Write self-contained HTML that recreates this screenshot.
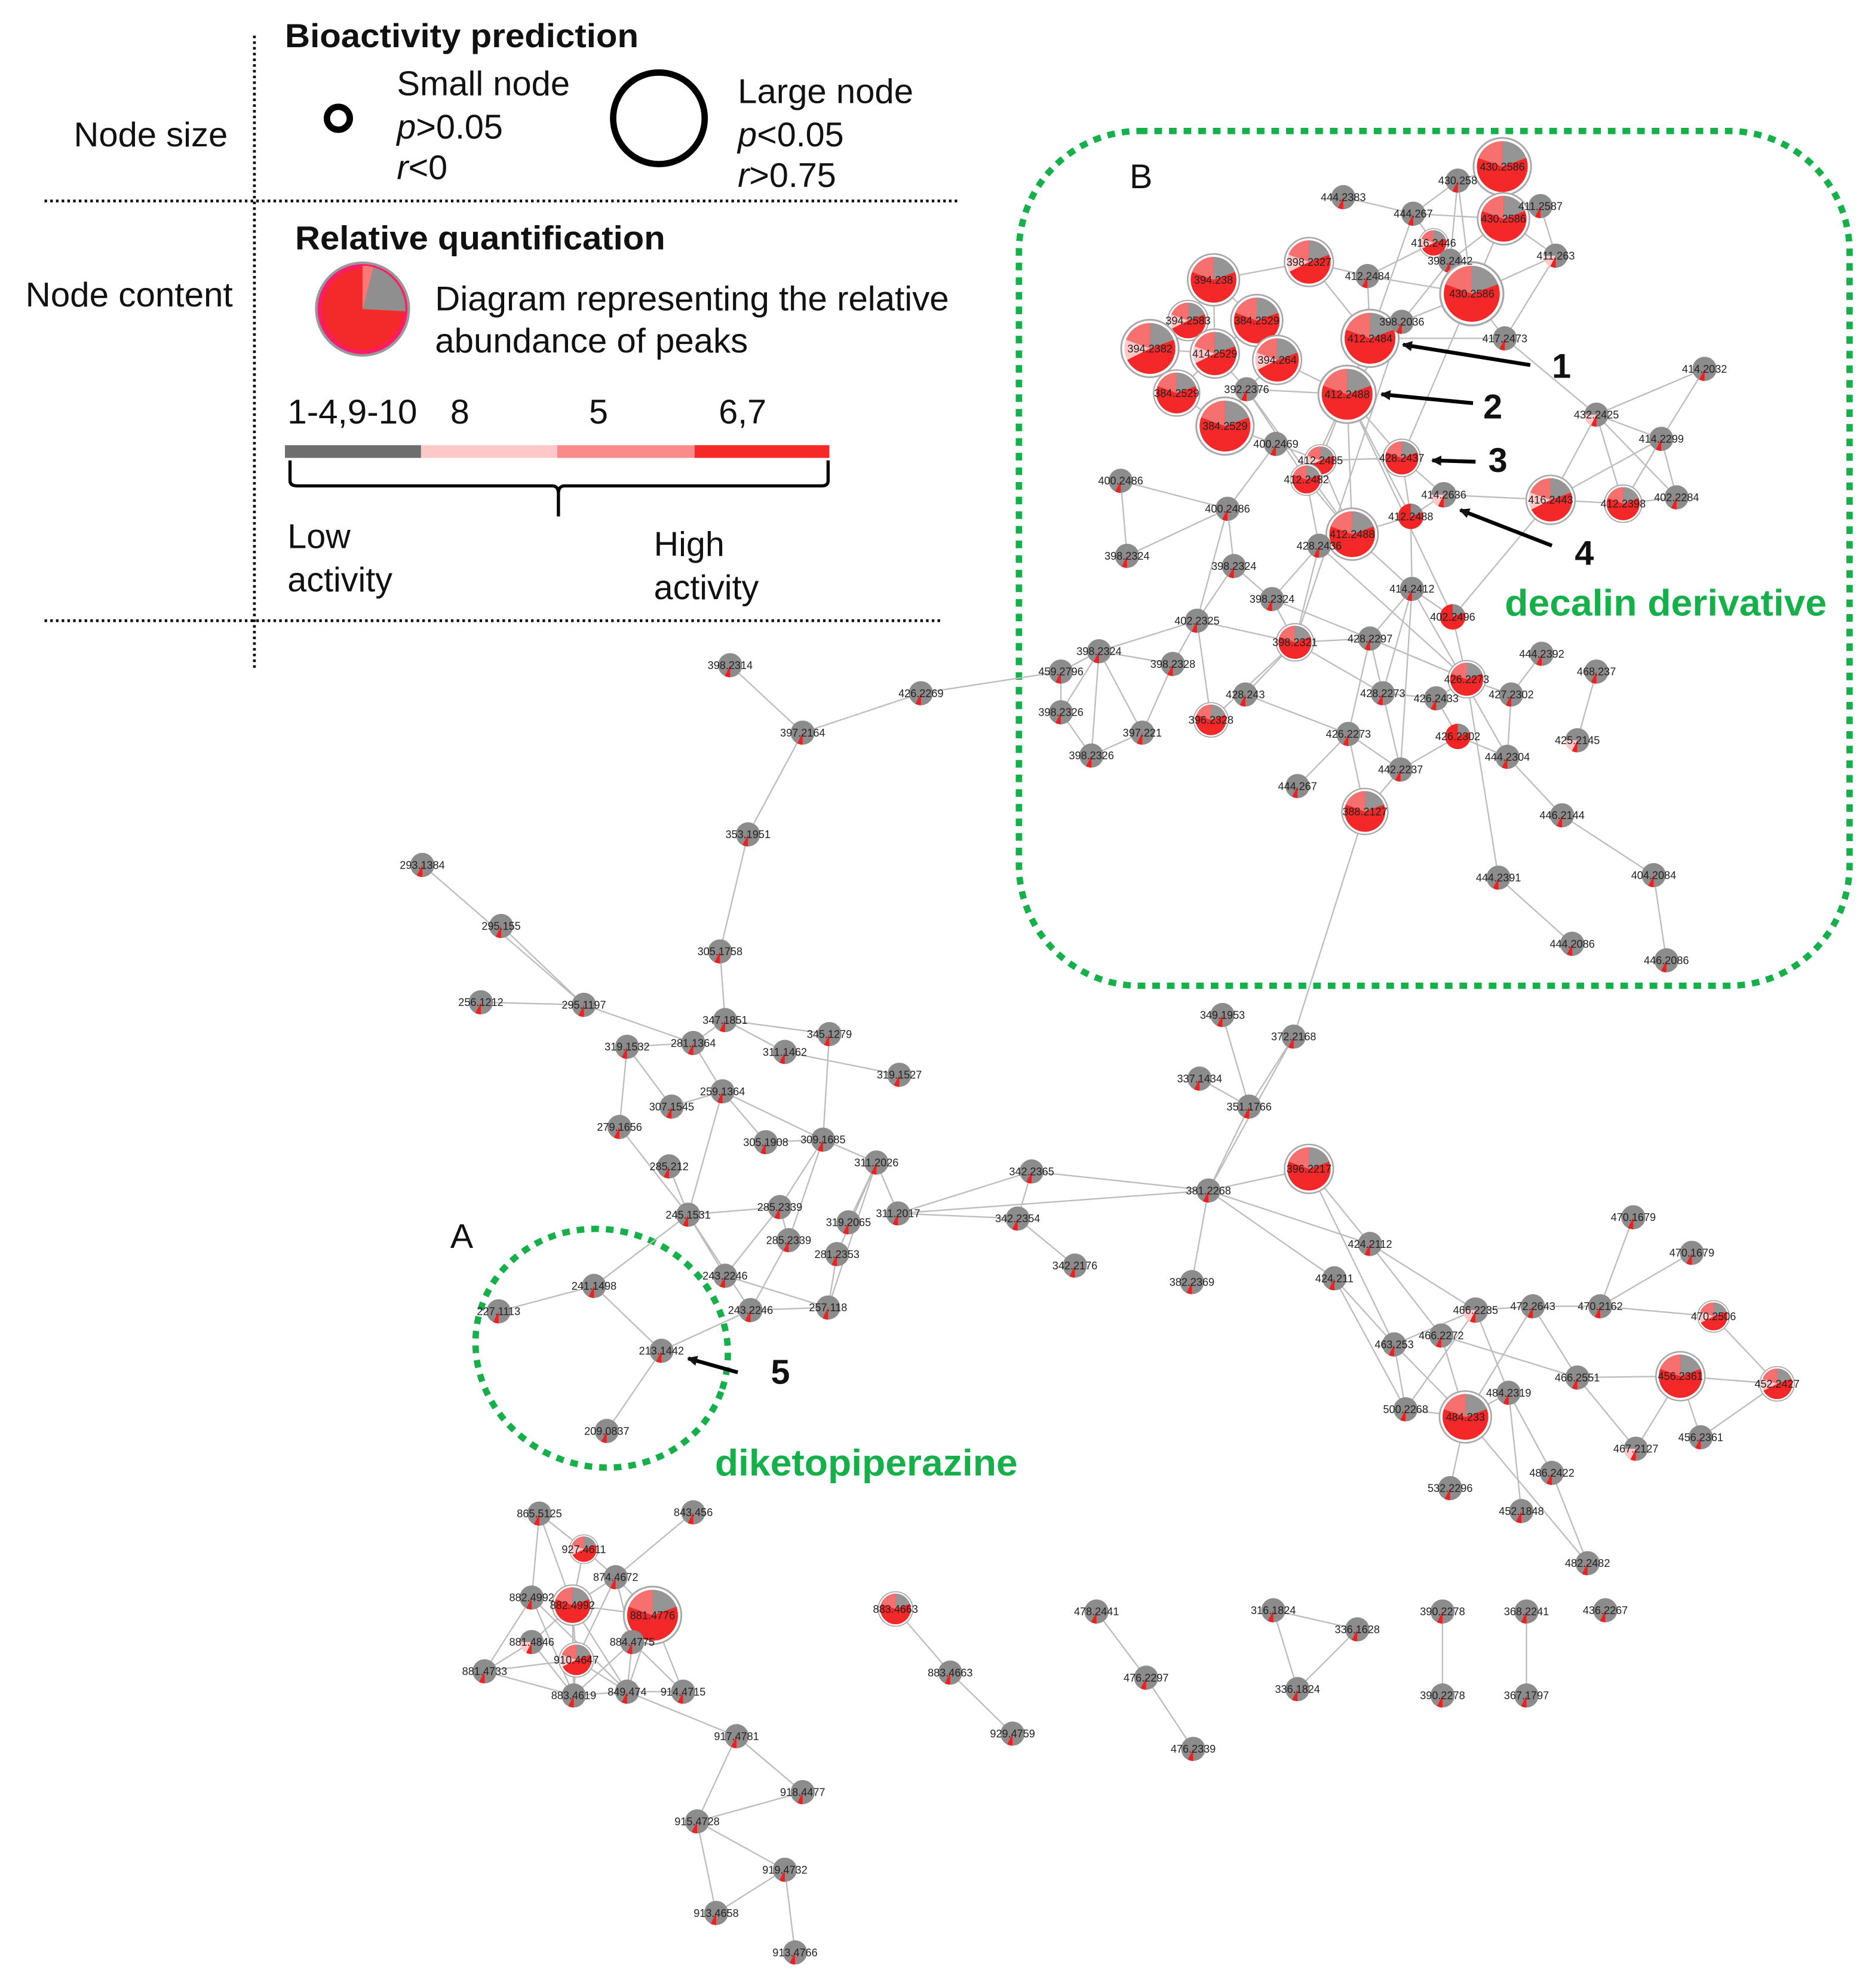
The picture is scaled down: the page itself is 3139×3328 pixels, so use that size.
<!DOCTYPE html>
<html><head><meta charset="utf-8"><style>
html,body{margin:0;padding:0;background:#fff;}
svg{display:block;}
.t{font-family:"Liberation Sans Narrow","Liberation Sans",sans-serif;fill:#111;}
.n{font-family:"Liberation Sans Narrow","Liberation Sans",sans-serif;font-size:8.5px;fill:#222;text-anchor:middle;}
.e{stroke:#bdbdbd;stroke-width:1.1;fill:none;}
</style></head><body>
<svg width="3139" height="3328" viewBox="0 0 1474 1563" preserveAspectRatio="none" xmlns="http://www.w3.org/2000/svg">
<defs>
<path id="wg" d="M0 0 L0 -1 A1 1 0 0 1 0.94 -0.34 Z"/>
<path id="wp" d="M0 0 L-0.94 -0.34 A1 1 0 0 1 0 -1 Z"/>
<path id="wl" d="M0 0 L-0.9 0.45 A1 1 0 0 1 -0.94 -0.34 Z"/>
<path id="wr" d="M0 0 L0 1 A1 1 0 0 1 -0.45 0.89 Z"/>
<g id="G"><circle r="1" fill="#8c8c8c"/><use href="#wr" fill="#f02020"/></g>
<g id="P"><circle r="1" fill="#8c8c8c"/><path d="M0 0 L0 1 A1 1 0 0 1 -1 0 Z" fill="#ffc9c9"/><use href="#wr" fill="#f02020"/></g>
<g id="R"><circle r="1" fill="#f22424"/><use href="#wg" fill="#8c8c8c"/></g>
<g id="L"><circle r="1.13" fill="#fff" stroke="#a8a8a8" stroke-width="0.07"/><circle r="1" fill="#f42828"/><use href="#wp" fill="#f77070"/><use href="#wg" fill="#959595"/></g>
<g id="L2"><circle r="1.13" fill="#fff" stroke="#a8a8a8" stroke-width="0.07"/><circle r="1" fill="#f42828"/><use href="#wp" fill="#f77070"/><use href="#wg" fill="#959595"/><use href="#wl" fill="#ffc9c9"/></g>
<marker id="ah" markerWidth="8" markerHeight="8" refX="7" refY="4" orient="auto" markerUnits="userSpaceOnUse"><path d="M0 0 L8 4 L0 8 Z" fill="#111"/></marker>
</defs>

<!-- Legend -->
<g class="t">
<text x="224" y="37" font-size="26" font-weight="bold" textLength="278" lengthAdjust="spacingAndGlyphs">Bioactivity prediction</text>
<text x="58" y="115" font-size="27" textLength="121" lengthAdjust="spacingAndGlyphs">Node size</text>
<text x="312" y="75" font-size="27" textLength="136" lengthAdjust="spacingAndGlyphs">Small node</text>
<text x="312" y="109" font-size="27"><tspan font-style="italic">p</tspan>&gt;0.05</text>
<text x="312" y="141" font-size="27"><tspan font-style="italic">r</tspan>&lt;0</text>
<text x="580" y="81" font-size="27" textLength="138" lengthAdjust="spacingAndGlyphs">Large node</text>
<text x="580" y="115" font-size="27"><tspan font-style="italic">p</tspan>&lt;0.05</text>
<text x="580" y="147" font-size="27"><tspan font-style="italic">r</tspan>&gt;0.75</text>
<text x="232" y="196" font-size="26" font-weight="bold" textLength="291" lengthAdjust="spacingAndGlyphs">Relative quantification</text>
<text x="20" y="241" font-size="27" textLength="163" lengthAdjust="spacingAndGlyphs">Node content</text>
<text x="342" y="244" font-size="27" textLength="404" lengthAdjust="spacingAndGlyphs">Diagram representing the relative</text>
<text x="342" y="277" font-size="27" textLength="246" lengthAdjust="spacingAndGlyphs">abundance of peaks</text>
<text x="226" y="333" font-size="27" textLength="102" lengthAdjust="spacingAndGlyphs">1-4,9-10</text>
<text x="354" y="333" font-size="27">8</text>
<text x="463" y="333" font-size="27">5</text>
<text x="565" y="333" font-size="27">6,7</text>
<text x="226" y="431" font-size="27">Low</text>
<text x="226" y="465" font-size="27">activity</text>
<text x="514" y="437" font-size="27">High</text>
<text x="514" y="471" font-size="27">activity</text>
</g>
<circle cx="266" cy="93" r="9" fill="none" stroke="#000" stroke-width="5"/>
<circle cx="518" cy="93" r="36" fill="none" stroke="#000" stroke-width="5"/>
<g transform="translate(285,243) scale(34)"><circle r="1" fill="#f42a2a" stroke="#ff1a6a" stroke-width="0.1"/><path d="M0 0 L0 -1 A1 1 0 0 1 0.99 0.05 Z" fill="#8f8f8f"/><path d="M0 0 L0 -1 A1 1 0 0 1 0.25 -0.97 Z" fill="#f77"/><circle r="1.07" fill="none" stroke="#999" stroke-width="0.06"/></g>
<rect x="224" y="350" width="107" height="10" fill="#6e6e6e"/>
<rect x="331" y="350" width="107" height="10" fill="#ffc8c8"/>
<rect x="438" y="350" width="108" height="10" fill="#fb8a8a"/>
<rect x="546" y="350" width="106" height="10" fill="#f72828"/>
<path d="M228 362 V378 Q228 382 234 382 H434 Q439 382 439 388 V406 M439 388 Q439 382 444 382 H646 Q651 382 651 378 V362" fill="none" stroke="#000" stroke-width="2.5"/>
<g stroke="#000" stroke-width="2.2" stroke-dasharray="2 2.5" fill="none">
<line x1="35" y1="158" x2="755" y2="158"/>
<line x1="35" y1="488" x2="740" y2="488"/>
<line x1="200" y1="28" x2="200" y2="525"/>
</g>

<!-- Green regions -->
<rect x="801" y="103" width="653" height="672" rx="95" fill="none" stroke="#16b04a" stroke-width="5" stroke-dasharray="6 5.5"/>
<ellipse cx="473" cy="1060" rx="100" ry="93" transform="rotate(20 473 1060)" fill="none" stroke="#16b04a" stroke-width="5" stroke-dasharray="6 5.5"/>
<text x="888" y="148" class="t" font-size="27">B</text>
<text x="354" y="981" class="t" font-size="27">A</text>
<text x="1183" y="484" font-family="Liberation Sans,sans-serif" font-size="29" font-weight="bold" fill="#16b04a" textLength="253" lengthAdjust="spacingAndGlyphs">decalin derivative</text>
<text x="562" y="1160" font-family="Liberation Sans,sans-serif" font-size="29" font-weight="bold" fill="#16b04a" textLength="238" lengthAdjust="spacingAndGlyphs">diketopiperazine</text>

<!-- Edges -->
<path class="e" d="
M1181 131 L1146 142 M1181 131 L1182 172 M1146 142 L1111 168 M1146 142 L1140 205 M1146 142 L1157 231 M1182 172 L1111 168 M1182 172 L1140 205 M1182 172 L1211 162 M1182 172 L1223 201 M1182 172 L1157 231 M1056 155 L1111 168 M1111 168 L1077 266 M1111 168 L1127 191 M1127 191 L1075 217 M1127 191 L1157 231 M1140 205 L1157 231 M1140 205 L1102 253 M1223 201 L1157 231 M1223 201 L1183 266 M1223 201 L1211 162 M1029 206 L1075 217 M1029 206 L954 220 M1029 206 L1077 266 M1075 217 L1077 266 M1075 217 L1157 231 M1157 231 L1102 253 M1157 231 L1183 266 M1183 266 L1077 266 M1183 266 L1255 326 M954 220 L934 252 M954 220 L988 252 M954 220 L955 278 M934 252 L904 274 M934 252 L955 278 M988 252 L955 278 M988 252 L1004 283 M904 274 L955 278 M904 274 L925 309 M955 278 L925 309 M955 278 L980 306 M1004 283 L980 306 M1004 283 L1059 310 M925 309 L963 335 M980 306 L963 335 M980 306 L1059 310 M1077 266 L1059 310 M1077 266 L1102 253 M1102 253 L1059 310 M1059 310 L1038 362 M1059 310 L1102 360 M1059 310 L1027 377 M1059 310 L1063 420 M1059 310 L1109 406 M963 335 L1003 349 M1003 349 L1038 362 M1003 349 L965 400 M980 306 L1027 377 M980 306 L1063 420 M1038 362 L1102 360 M1038 362 L1063 420 M1027 377 L1063 420 M1102 360 L1109 406 M1102 360 L1135 389 M1135 389 L1219 393 M1135 389 L1109 406 M1109 406 L1063 420 M1063 420 L1037 429 M1063 420 L1110 463 M1109 406 L1110 463 M1102 360 L1157 231 M1027 377 L1037 429 M881 378 L886 437 M881 378 L965 400 M886 437 L965 400 M965 400 L941 488 M965 400 L970 445 M970 445 L1000 471 M970 445 L941 488 M1000 471 L1018 505 M1000 471 L1037 429 M1037 429 L1018 505 M1110 463 L1077 502 M1110 463 L1142 485 M1110 463 L1087 545 M1110 463 L1101 605 M1142 485 L1153 534 M1142 485 L1219 393 M1219 393 L1276 396 M1276 396 L1318 391 M1255 326 L1219 393 M1255 326 L1276 396 M1255 326 L1318 391 M1255 326 L1306 345 M1255 326 L1340 290 M1306 345 L1340 290 M1306 345 L1219 393 M1306 345 L1276 396 M1306 345 L1318 391 M1018 505 L1077 502 M1018 505 L1087 545 M1018 505 L979 546 M1018 505 L952 566 M1018 505 L941 488 M1077 502 L1087 545 M1077 502 L1060 577 M1077 502 L1153 534 M1087 545 L1129 549 M1087 545 L1101 605 M1129 549 L1153 534 M1129 549 L1146 579 M1153 534 L1188 546 M1188 546 L1212 514 M1188 546 L1185 595 M1146 579 L1185 595 M1146 579 L1101 605 M1060 577 L1101 605 M1060 577 L1073 638 M1060 577 L1020 618 M979 546 L1060 577 M1101 605 L1073 638 M1255 528 L1240 582 M1185 595 L1228 641 M1228 641 L1300 688 M1300 688 L1310 755 M1178 690 L1236 742 M1153 534 L1178 690 M1060 577 L1020 618 M864 512 L834 528 M864 512 L922 522 M864 512 L834 560 M864 512 L858 594 M864 512 L898 576 M922 522 L898 576 M922 522 L941 488 M834 528 L834 560 M834 560 L858 594 M898 576 L858 594 M864 512 L941 488 M952 566 L941 488 M1000 471 L1077 502 M1037 429 L1153 534 M1110 463 L1185 595 M1059 310 L1142 485 M1102 253 L1018 505
M574 523 L631 576 M724 545 L631 576 M724 545 L834 528 M631 576 L588 656 M588 656 L566 748 M566 748 L570 802 M332 680 L459 790 M394 728 L459 790 M378 788 L459 790 M459 790 L545 820 M570 802 L545 820 M570 802 L617 827 M570 802 L652 813 M545 820 L493 823 M493 823 L528 870 M493 823 L487 886 M545 820 L568 858 M568 858 L528 870 M568 858 L602 898 M568 858 L647 896 M652 813 L647 896 M617 827 L707 845 M647 896 L689 914 M602 898 L647 896 M526 917 L541 955 M487 886 L541 955 M568 858 L541 955 M647 896 L613 949 M647 896 L620 975 M689 914 L706 954 M689 914 L667 961 M689 914 L658 986 M706 954 L811 921 M706 954 L800 958 M811 921 L800 958 M800 958 L845 995 M811 921 L950 936 M706 954 L950 936 M950 936 L1029 919 M950 936 L1017 815 M950 936 L982 870 M982 870 L1017 815 M1017 815 L1073 638 M961 798 L982 870 M943 848 L982 870 M950 936 L937 1008 M950 936 L1077 978 M950 936 L1049 1005 M1029 919 L1077 978 M1029 919 L1096 1057 M1049 1005 L1096 1057 M1077 978 L1160 1030 M1096 1057 L1105 1108 M1096 1057 L1152 1114 M1133 1050 L1152 1114 M1160 1030 L1186 1095 M1205 1027 L1258 1027 M1258 1027 L1284 957 M1258 1027 L1330 985 M1258 1027 L1347 1035 M1205 1027 L1240 1083 M1240 1083 L1321 1082 M1240 1083 L1286 1139 M1321 1082 L1397 1088 M1337 1130 L1397 1088 M1347 1035 L1397 1088 M1186 1095 L1220 1158 M1220 1158 L1248 1229 M1186 1095 L1196 1188 M1152 1114 L1140 1170 M1105 1108 L1152 1114 M1186 1095 L1152 1114 M1160 1030 L1105 1108 M1049 1005 L1105 1108 M1133 1050 L1240 1083 M1077 978 L1133 1050 M1160 1030 L1205 1027 M1205 1027 L1152 1114 M1321 1082 L1337 1130 M1286 1139 L1321 1082 M1152 1114 L1248 1229 M1096 1057 L1160 1030
M541 955 L570 1003 M541 955 L590 1030 M570 1003 L651 1028 M590 1030 L651 1028 M613 949 L570 1003 M658 986 L651 1028 M620 975 L590 1030 M613 949 L620 975 M541 955 L613 949 M392 1031 L467 1011 M467 1011 L520 1062 M520 1062 L477 1125 M520 1062 L590 1030 M689 914 L651 1028 M541 955 L467 1011
M424 1190 L459 1218 M424 1190 L418 1256 M424 1190 L450 1262 M545 1189 L484 1240 M459 1218 L484 1240 M459 1218 L450 1262 M484 1240 L513 1270 M484 1240 L450 1262 M484 1240 L497 1291 M484 1240 L453 1305 M418 1256 L381 1314 M418 1256 L451 1333 M418 1256 L493 1330 M450 1262 L513 1270 M450 1262 L418 1291 M450 1262 L453 1305 M450 1262 L451 1333 M450 1262 L493 1330 M513 1270 L497 1291 M513 1270 L537 1330 M513 1270 L493 1330 M497 1291 L493 1330 M497 1291 L451 1333 M418 1291 L381 1314 M418 1291 L451 1333 M453 1305 L381 1314 M453 1305 L451 1333 M453 1305 L493 1330 M381 1314 L451 1333 M451 1333 L493 1330 M493 1330 L537 1330 M497 1291 L537 1330 M493 1330 L579 1365 M579 1365 L548 1432 M579 1365 L631 1409 M548 1432 L631 1409 M548 1432 L617 1470 M548 1432 L563 1504 M617 1470 L625 1535 M563 1504 L617 1470 M704 1265 L747 1315 M747 1315 L796 1363 M862 1267 L901 1319 M901 1319 L938 1375 M1001 1266 L1067 1281 M1001 1266 L1020 1328 M1067 1281 L1020 1328 M1134 1267 L1134 1333 M1200 1267 L1200 1333
"/>

<!-- Nodes -->
<g>
<use href="#L" transform="translate(1181,131) scale(20)"/>
<use href="#G" transform="translate(1146,142) scale(9.5)"/>
<use href="#G" transform="translate(1211,162) scale(9.5)"/>
<use href="#L" transform="translate(1182,172) scale(18)"/>
<use href="#G" transform="translate(1056,155) scale(9.5)"/>
<use href="#G" transform="translate(1111,168) scale(9.5)"/>
<use href="#L2" transform="translate(1127,191) scale(10)"/>
<use href="#G" transform="translate(1140,205) scale(9.5)"/>
<use href="#P" transform="translate(1223,201) scale(9.5)"/>
<use href="#L" transform="translate(1157,231) scale(22)"/>
<use href="#L2" transform="translate(1029,206) scale(17)"/>
<use href="#G" transform="translate(1075,217) scale(9.5)"/>
<use href="#L" transform="translate(954,220) scale(18)"/>
<use href="#L2" transform="translate(934,252) scale(14)"/>
<use href="#L" transform="translate(988,252) scale(18)"/>
<use href="#L2" transform="translate(904,274) scale(20)"/>
<use href="#L2" transform="translate(955,278) scale(17)"/>
<use href="#L2" transform="translate(1004,283) scale(17)"/>
<use href="#L" transform="translate(1077,266) scale(20)"/>
<use href="#G" transform="translate(1102,253) scale(9.5)"/>
<use href="#G" transform="translate(1183,266) scale(9.5)"/>
<use href="#L" transform="translate(1059,310) scale(20)"/>
<use href="#L" transform="translate(925,309) scale(16)"/>
<use href="#G" transform="translate(980,306) scale(9.5)"/>
<use href="#L" transform="translate(963,335) scale(20)"/>
<use href="#G" transform="translate(1003,349) scale(9.5)"/>
<use href="#L2" transform="translate(1038,362) scale(11)"/>
<use href="#L" transform="translate(1102,360) scale(13)"/>
<use href="#L" transform="translate(1027,377) scale(11)"/>
<use href="#P" transform="translate(1135,389) scale(10)"/>
<use href="#R" transform="translate(1109,406) scale(10)"/>
<use href="#L" transform="translate(1063,420) scale(18)"/>
<use href="#G" transform="translate(881,378) scale(9.5)"/>
<use href="#G" transform="translate(965,400) scale(9.5)"/>
<use href="#G" transform="translate(1037,429) scale(9.5)"/>
<use href="#G" transform="translate(886,437) scale(9.5)"/>
<use href="#G" transform="translate(970,445) scale(9.5)"/>
<use href="#G" transform="translate(1000,471) scale(9.5)"/>
<use href="#G" transform="translate(1110,463) scale(9.5)"/>
<use href="#G" transform="translate(941,488) scale(9.5)"/>
<use href="#L2" transform="translate(1219,393) scale(17)"/>
<use href="#L" transform="translate(1276,396) scale(13)"/>
<use href="#G" transform="translate(1318,391) scale(9.5)"/>
<use href="#P" transform="translate(1255,326) scale(9.5)"/>
<use href="#G" transform="translate(1306,345) scale(9.5)"/>
<use href="#G" transform="translate(1340,290) scale(9.5)"/>
<use href="#R" transform="translate(1142,485) scale(10)"/>
<use href="#L" transform="translate(1018,505) scale(13)"/>
<use href="#G" transform="translate(1077,502) scale(9.5)"/>
<use href="#G" transform="translate(864,512) scale(9.5)"/>
<use href="#G" transform="translate(834,528) scale(9.5)"/>
<use href="#G" transform="translate(922,522) scale(9.5)"/>
<use href="#G" transform="translate(834,560) scale(9.5)"/>
<use href="#G" transform="translate(858,594) scale(9.5)"/>
<use href="#G" transform="translate(898,576) scale(9.5)"/>
<use href="#L" transform="translate(952,566) scale(12)"/>
<use href="#G" transform="translate(979,546) scale(9.5)"/>
<use href="#G" transform="translate(1087,545) scale(9.5)"/>
<use href="#G" transform="translate(1129,549) scale(9.5)"/>
<use href="#G" transform="translate(1060,577) scale(9.5)"/>
<use href="#L" transform="translate(1153,534) scale(13)"/>
<use href="#G" transform="translate(1188,546) scale(9.5)"/>
<use href="#R" transform="translate(1146,579) scale(10)"/>
<use href="#G" transform="translate(1185,595) scale(9.5)"/>
<use href="#G" transform="translate(1212,514) scale(9.5)"/>
<use href="#G" transform="translate(1255,528) scale(9.5)"/>
<use href="#P" transform="translate(1240,582) scale(9.5)"/>
<use href="#G" transform="translate(1101,605) scale(9.5)"/>
<use href="#G" transform="translate(1020,618) scale(9.5)"/>
<use href="#L" transform="translate(1073,638) scale(16)"/>
<use href="#G" transform="translate(1228,641) scale(9.5)"/>
<use href="#G" transform="translate(1300,688) scale(9.5)"/>
<use href="#G" transform="translate(1178,690) scale(9.5)"/>
<use href="#G" transform="translate(1236,742) scale(9.5)"/>
<use href="#G" transform="translate(1310,755) scale(9.5)"/>

<use href="#G" transform="translate(574,523) scale(9.5)"/>
<use href="#G" transform="translate(724,545) scale(9.5)"/>
<use href="#G" transform="translate(631,576) scale(9.5)"/>
<use href="#G" transform="translate(588,656) scale(9.5)"/>
<use href="#G" transform="translate(332,680) scale(9.5)"/>
<use href="#G" transform="translate(394,728) scale(9.5)"/>
<use href="#G" transform="translate(378,788) scale(9.5)"/>
<use href="#G" transform="translate(459,790) scale(9.5)"/>
<use href="#G" transform="translate(566,748) scale(9.5)"/>
<use href="#G" transform="translate(570,802) scale(9.5)"/>
<use href="#G" transform="translate(545,820) scale(9.5)"/>
<use href="#G" transform="translate(493,823) scale(9.5)"/>
<use href="#G" transform="translate(617,827) scale(9.5)"/>
<use href="#G" transform="translate(652,813) scale(9.5)"/>
<use href="#G" transform="translate(707,845) scale(9.5)"/>
<use href="#G" transform="translate(568,858) scale(9.5)"/>
<use href="#G" transform="translate(528,870) scale(9.5)"/>
<use href="#G" transform="translate(487,886) scale(9.5)"/>
<use href="#G" transform="translate(602,898) scale(9.5)"/>
<use href="#G" transform="translate(647,896) scale(9.5)"/>
<use href="#G" transform="translate(526,917) scale(9.5)"/>
<use href="#G" transform="translate(689,914) scale(9.5)"/>
<use href="#G" transform="translate(541,955) scale(9.5)"/>
<use href="#G" transform="translate(613,949) scale(9.5)"/>
<use href="#G" transform="translate(667,961) scale(9.5)"/>
<use href="#G" transform="translate(706,954) scale(9.5)"/>
<use href="#G" transform="translate(620,975) scale(9.5)"/>
<use href="#G" transform="translate(658,986) scale(9.5)"/>
<use href="#G" transform="translate(570,1003) scale(9.5)"/>
<use href="#G" transform="translate(590,1030) scale(9.5)"/>
<use href="#G" transform="translate(651,1028) scale(9.5)"/>
<use href="#G" transform="translate(811,921) scale(9.5)"/>
<use href="#G" transform="translate(800,958) scale(9.5)"/>
<use href="#G" transform="translate(845,995) scale(9.5)"/>
<use href="#G" transform="translate(950,936) scale(9.5)"/>
<use href="#G" transform="translate(961,798) scale(9.5)"/>
<use href="#G" transform="translate(1017,815) scale(9.5)"/>
<use href="#G" transform="translate(943,848) scale(9.5)"/>
<use href="#G" transform="translate(982,870) scale(9.5)"/>
<use href="#L" transform="translate(1029,919) scale(17)"/>
<use href="#G" transform="translate(937,1008) scale(9.5)"/>
<use href="#G" transform="translate(1077,978) scale(9.5)"/>
<use href="#G" transform="translate(1049,1005) scale(9.5)"/>
<use href="#G" transform="translate(1284,957) scale(9.5)"/>
<use href="#G" transform="translate(1330,985) scale(9.5)"/>
<use href="#G" transform="translate(1258,1027) scale(9.5)"/>
<use href="#L2" transform="translate(1347,1035) scale(11)"/>
<use href="#P" transform="translate(1160,1030) scale(10)"/>
<use href="#G" transform="translate(1205,1027) scale(9.5)"/>
<use href="#G" transform="translate(1096,1057) scale(9.5)"/>
<use href="#G" transform="translate(1133,1050) scale(9.5)"/>
<use href="#G" transform="translate(1186,1095) scale(9.5)"/>
<use href="#G" transform="translate(1240,1083) scale(9.5)"/>
<use href="#L" transform="translate(1321,1082) scale(17)"/>
<use href="#L2" transform="translate(1397,1088) scale(12)"/>
<use href="#G" transform="translate(1105,1108) scale(9.5)"/>
<use href="#L" transform="translate(1152,1114) scale(18)"/>
<use href="#P" transform="translate(1286,1139) scale(9.5)"/>
<use href="#G" transform="translate(1337,1130) scale(9.5)"/>
<use href="#G" transform="translate(1220,1158) scale(9.5)"/>
<use href="#G" transform="translate(1140,1170) scale(9.5)"/>
<use href="#G" transform="translate(1196,1188) scale(9.5)"/>
<use href="#G" transform="translate(1248,1229) scale(9.5)"/>

<use href="#G" transform="translate(467,1011) scale(9.5)"/>
<use href="#G" transform="translate(392,1031) scale(9.5)"/>
<use href="#G" transform="translate(520,1062) scale(9.5)"/>
<use href="#G" transform="translate(477,1125) scale(9.5)"/>

<use href="#G" transform="translate(424,1190) scale(9.5)"/>
<use href="#G" transform="translate(545,1189) scale(9.5)"/>
<use href="#L2" transform="translate(459,1218) scale(10)"/>
<use href="#G" transform="translate(484,1240) scale(9.5)"/>
<use href="#G" transform="translate(418,1256) scale(9.5)"/>
<use href="#L" transform="translate(450,1262) scale(14)"/>
<use href="#L" transform="translate(513,1270) scale(20)"/>
<use href="#P" transform="translate(418,1291) scale(9.5)"/>
<use href="#G" transform="translate(497,1291) scale(9.5)"/>
<use href="#L2" transform="translate(453,1305) scale(12)"/>
<use href="#G" transform="translate(381,1314) scale(9.5)"/>
<use href="#G" transform="translate(451,1333) scale(9.5)"/>
<use href="#G" transform="translate(493,1330) scale(9.5)"/>
<use href="#G" transform="translate(537,1330) scale(9.5)"/>
<use href="#G" transform="translate(579,1365) scale(9.5)"/>
<use href="#G" transform="translate(631,1409) scale(9.5)"/>
<use href="#G" transform="translate(548,1432) scale(9.5)"/>
<use href="#G" transform="translate(617,1470) scale(9.5)"/>
<use href="#G" transform="translate(563,1504) scale(9.5)"/>
<use href="#G" transform="translate(625,1535) scale(9.5)"/>
<use href="#L" transform="translate(704,1265) scale(12)"/>
<use href="#G" transform="translate(747,1315) scale(9.5)"/>
<use href="#G" transform="translate(796,1363) scale(9.5)"/>
<use href="#G" transform="translate(862,1267) scale(9.5)"/>
<use href="#G" transform="translate(901,1319) scale(9.5)"/>
<use href="#G" transform="translate(938,1375) scale(9.5)"/>
<use href="#G" transform="translate(1001,1266) scale(9.5)"/>
<use href="#G" transform="translate(1067,1281) scale(9.5)"/>
<use href="#G" transform="translate(1020,1328) scale(9.5)"/>
<use href="#G" transform="translate(1134,1267) scale(9.5)"/>
<use href="#G" transform="translate(1134,1333) scale(9.5)"/>
<use href="#G" transform="translate(1200,1267) scale(9.5)"/>
<use href="#G" transform="translate(1200,1333) scale(9.5)"/>
<use href="#G" transform="translate(1262,1266) scale(9.5)"/>
</g>

<!-- Node labels -->
<g class="n">
<text x="1181" y="134">430.2586</text><text x="1146" y="145">430.258</text><text x="1211" y="165">411.2587</text><text x="1182" y="175">430.2586</text>
<text x="1056" y="158">444.2383</text><text x="1111" y="171">444.267</text><text x="1127" y="194">416.2446</text><text x="1140" y="208">398.2442</text>
<text x="1223" y="204">411.263</text><text x="1157" y="234">430.2586</text><text x="1029" y="209">398.2327</text><text x="1075" y="220">412.2484</text>
<text x="954" y="223">394.238</text><text x="934" y="255">394.2583</text><text x="988" y="255">384.2529</text><text x="904" y="277">394.2382</text>
<text x="955" y="281">414.2529</text><text x="1004" y="286">394.264</text><text x="1077" y="269">412.2484</text><text x="1102" y="256">398.2036</text>
<text x="1183" y="269">417.2473</text><text x="1059" y="313">412.2488</text><text x="925" y="312">384.2529</text><text x="980" y="309">392.2376</text>
<text x="963" y="338">384.2529</text><text x="1003" y="352">400.2469</text><text x="1038" y="365">412.2485</text><text x="1102" y="363">428.2437</text>
<text x="1027" y="380">412.2482</text><text x="1135" y="392">414.2636</text><text x="1109" y="409">412.2488</text><text x="1063" y="423">412.2488</text>
<text x="881" y="381">400.2486</text><text x="965" y="403">400.2486</text><text x="1037" y="432">428.2436</text><text x="886" y="440">398.2324</text>
<text x="970" y="448">398.2324</text><text x="1000" y="474">398.2324</text><text x="1110" y="466">414.2412</text><text x="941" y="491">402.2325</text>
<text x="1219" y="396">416.2443</text><text x="1276" y="399">412.2398</text><text x="1318" y="394">402.2284</text><text x="1255" y="329">432.2425</text>
<text x="1306" y="348">414.2299</text><text x="1340" y="293">414.2032</text><text x="1142" y="488">402.2496</text><text x="1018" y="508">398.2321</text>
<text x="1077" y="505">428.2297</text><text x="864" y="515">398.2324</text><text x="834" y="531">459.2796</text><text x="922" y="525">398.2328</text>
<text x="834" y="563">398.2326</text><text x="858" y="597">398.2326</text><text x="898" y="579">397.221</text><text x="952" y="569">396.2328</text>
<text x="979" y="549">428.243</text><text x="1087" y="548">428.2273</text><text x="1129" y="552">426.2433</text><text x="1060" y="580">426.2273</text>
<text x="1153" y="537">426.2273</text><text x="1188" y="549">427.2302</text><text x="1146" y="582">426.2302</text><text x="1185" y="598">444.2304</text>
<text x="1212" y="517">444.2392</text><text x="1255" y="531">468.237</text><text x="1240" y="585">425.2145</text><text x="1101" y="608">442.2237</text>
<text x="1020" y="621">444.267</text><text x="1073" y="641">388.2127</text><text x="1228" y="644">446.2144</text><text x="1300" y="691">404.2084</text>
<text x="1178" y="693">444.2391</text><text x="1236" y="745">444.2086</text><text x="1310" y="758">446.2086</text>

<text x="574" y="526">398.2314</text><text x="724" y="548">426.2269</text><text x="631" y="579">397.2164</text><text x="588" y="659">353.1951</text>
<text x="332" y="683">293.1384</text><text x="394" y="731">295.155</text><text x="378" y="791">256.1212</text><text x="459" y="793">295.1197</text>
<text x="566" y="751">305.1758</text><text x="570" y="805">347.1851</text><text x="545" y="823">281.1364</text><text x="493" y="826">319.1532</text>
<text x="617" y="830">311.1462</text><text x="652" y="816">345.1279</text><text x="707" y="848">319.1527</text><text x="568" y="861">259.1364</text>
<text x="528" y="873">307.1545</text><text x="487" y="889">279.1656</text><text x="602" y="901">305.1908</text><text x="647" y="899">309.1685</text>
<text x="526" y="920">285.212</text><text x="689" y="917">311.2026</text><text x="541" y="958">245.1531</text><text x="613" y="952">285.2339</text>
<text x="667" y="964">319.2065</text><text x="706" y="957">311.2017</text><text x="620" y="978">285.2339</text><text x="658" y="989">281.2353</text>
<text x="570" y="1006">243.2246</text><text x="590" y="1033">243.2246</text><text x="651" y="1031">257.118</text><text x="811" y="924">342.2365</text>
<text x="800" y="961">342.2354</text><text x="845" y="998">342.2176</text><text x="950" y="939">381.2268</text><text x="961" y="801">349.1953</text>
<text x="1017" y="818">372.2168</text><text x="943" y="851">337.1434</text><text x="982" y="873">351.1766</text><text x="1029" y="922">396.2217</text>
<text x="937" y="1011">382.2369</text><text x="1077" y="981">424.2112</text><text x="1049" y="1008">424.211</text><text x="1284" y="960">470.1679</text>
<text x="1330" y="988">470.1679</text><text x="1258" y="1030">470.2162</text><text x="1347" y="1038">470.2506</text><text x="1160" y="1033">466.2235</text>
<text x="1205" y="1030">472.2643</text><text x="1096" y="1060">463.253</text><text x="1133" y="1053">466.2272</text><text x="1186" y="1098">484.2319</text>
<text x="1240" y="1086">466.2551</text><text x="1321" y="1085">456.2361</text><text x="1397" y="1091">452.2427</text><text x="1105" y="1111">500.2268</text>
<text x="1152" y="1117">484.233</text><text x="1286" y="1142">467.2127</text><text x="1337" y="1133">456.2361</text><text x="1220" y="1161">486.2422</text>
<text x="1140" y="1173">532.2296</text><text x="1196" y="1191">452.1848</text><text x="1248" y="1232">482.2482</text>

<text x="467" y="1014">241.1498</text><text x="392" y="1034">227.1113</text><text x="520" y="1065">213.1442</text><text x="477" y="1128">209.0837</text>

<text x="424" y="1193">865.5125</text><text x="545" y="1192">843.456</text><text x="459" y="1221">927.4611</text><text x="484" y="1243">874.4672</text>
<text x="418" y="1259">882.4992</text><text x="450" y="1265">882.4992</text><text x="513" y="1273">881.4776</text><text x="418" y="1294">881.4846</text>
<text x="497" y="1294">884.4775</text><text x="453" y="1308">910.4647</text><text x="381" y="1317">881.4733</text><text x="451" y="1336">883.4619</text>
<text x="493" y="1333">849.474</text><text x="537" y="1333">914.4715</text><text x="579" y="1368">917.4781</text><text x="631" y="1412">918.4477</text>
<text x="548" y="1435">915.4728</text><text x="617" y="1473">919.4732</text><text x="563" y="1507">913.4658</text><text x="625" y="1538">913.4766</text>
<text x="704" y="1268">883.4663</text><text x="747" y="1318">883.4663</text><text x="796" y="1366">929.4759</text><text x="862" y="1270">478.2441</text>
<text x="901" y="1322">476.2297</text><text x="938" y="1378">476.2339</text><text x="1001" y="1269">316.1824</text><text x="1067" y="1284">336.1628</text>
<text x="1020" y="1331">336.1824</text><text x="1134" y="1270">390.2278</text><text x="1134" y="1336">390.2278</text><text x="1200" y="1270">368.2241</text>
<text x="1200" y="1336">367.1797</text><text x="1262" y="1269">436.2267</text>
</g>

<!-- Numbered arrows -->
<g stroke="#000" stroke-width="3" fill="none" marker-end="url(#ah)">
<line x1="1203" y1="287" x2="1103" y2="271"/>
<line x1="1158" y1="317" x2="1086" y2="310"/>
<line x1="1160" y1="363" x2="1126" y2="362"/>
<line x1="1220" y1="429" x2="1148" y2="401"/>
<line x1="580" y1="1079" x2="541" y2="1068"/>
</g>
<g class="t" font-size="27" font-weight="bold">
<text x="1220" y="297">1</text>
<text x="1166" y="329">2</text>
<text x="1170" y="371">3</text>
<text x="1238" y="444">4</text>
<text x="606" y="1088">5</text>
</g>
</svg>
</body></html>
